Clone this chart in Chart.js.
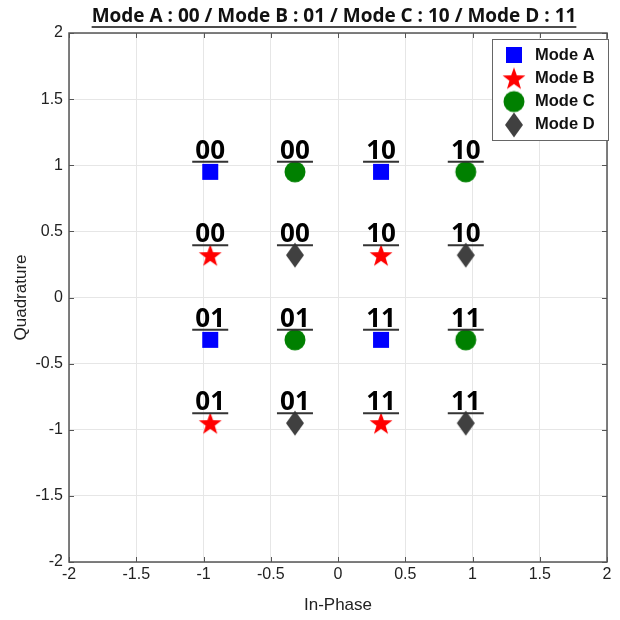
<!DOCTYPE html>
<html>
<head>
<meta charset="utf-8">
<script src="https://cdn.jsdelivr.net/npm/chart.js@4/dist/chart.umd.min.js"></script>
<style>
  html, body { margin: 0; padding: 0; background: #fff; }
  #wrap { width: 620px; height: 620px; }
</style>
</head>
<body>
<div id="wrap"><canvas id="c" width="620" height="620"></canvas></div>
<script>
// Constellation points for each mode (In-Phase / Quadrature)
const modeNames = ['Mode A', 'Mode B', 'Mode C', 'Mode D'];
const modeA_x = [-0.95, 0.32, -0.95, 0.32];
const modeA_y = [0.95, 0.95, -0.32, -0.32];
const modeA_bits = ['00', '10', '01', '11'];
const modeB_x = [-0.95, 0.32, -0.95, 0.32];
const modeB_y = [0.32, 0.32, -0.95, -0.95];
const modeB_bits = ['00', '10', '01', '11'];
const modeC_x = [-0.32, 0.95, -0.32, 0.95];
const modeC_y = [0.95, 0.95, -0.32, -0.32];
const modeC_bits = ['00', '10', '01', '11'];
const modeD_x = [-0.32, 0.95, -0.32, 0.95];
const modeD_y = [0.32, 0.32, -0.95, -0.95];
const modeD_bits = ['00', '10', '01', '11'];
const axisTicks = [-2, -1.5, -1, -0.5, 0, 0.5, 1, 1.5, 2];
const axisTickLabels = ['-2', '-1.5', '-1', '-0.5', '0', '0.5', '1', '1.5', '2'];
const titleText = 'Mode A : 00 / Mode B : 01 / Mode C : 10 / Mode D : 11';

// Marker images
function makeMarker(kind, color) {
  const w = 26, h = 28;
  const cv = document.createElement('canvas');
  cv.width = w; cv.height = h;
  const g = cv.getContext('2d');
  g.fillStyle = color;
  const cx = w / 2, cy = h / 2;
  g.beginPath();
  if (kind === 'square') {
    g.rect(cx - 8, cy - 8, 16, 16);
  } else if (kind === 'circle') {
    g.arc(cx, cy, 10.5, 0, Math.PI * 2);
  } else if (kind === 'star') {
    const R = 12, r = 4.8;
    for (let i = 0; i < 10; i++) {
      const rad = i % 2 === 0 ? R : r;
      const a = -Math.PI / 2 + i * Math.PI / 5;
      const px = cx + rad * Math.cos(a), py = cy + 1 + rad * Math.sin(a);
      if (i === 0) g.moveTo(px, py); else g.lineTo(px, py);
    }
    g.closePath();
  } else if (kind === 'diamond') {
    g.moveTo(cx, cy - 12.5);
    g.lineTo(cx + 9, cy);
    g.lineTo(cx, cy + 12.5);
    g.lineTo(cx - 9, cy);
    g.closePath();
  }
  g.fill();
  return cv;
}

const markers = [
  makeMarker('square', '#0000ff'),
  makeMarker('star', '#ff0000'),
  makeMarker('circle', '#008000'),
  makeMarker('diamond', '#404040')
];

function pts(xs, ys) { return xs.map((x, i) => ({ x: x, y: ys[i] })); }

const datasets = [
  { label: modeNames[0], data: pts(modeA_x, modeA_y), bits: modeA_bits },
  { label: modeNames[1], data: pts(modeB_x, modeB_y), bits: modeB_bits },
  { label: modeNames[2], data: pts(modeC_x, modeC_y), bits: modeC_bits },
  { label: modeNames[3], data: pts(modeD_x, modeD_y), bits: modeD_bits }
].map((d, i) => Object.assign(d, {
  pointStyle: markers[i],
  pointRadius: 12,
  pointHoverRadius: 12,
  showLine: false
}));

// Frame, inward ticks, bit labels, title, axis titles and legend
const decorations = {
  id: 'decorations',
  afterDatasetsDraw(chart) {
    const ctx = chart.ctx;
    const a = chart.chartArea;
    const xs = chart.scales.x, ys = chart.scales.y;
    ctx.save();
    // inward tick marks
    ctx.strokeStyle = '#555';
    ctx.lineWidth = 1;
    ctx.beginPath();
    axisTicks.forEach(v => {
      const px = Math.round(xs.getPixelForValue(v)) + 0.5;
      ctx.moveTo(px, a.bottom); ctx.lineTo(px, a.bottom - 5);
      ctx.moveTo(px, a.top); ctx.lineTo(px, a.top + 5);
      const py = Math.round(ys.getPixelForValue(v)) + 0.5;
      ctx.moveTo(a.left, py); ctx.lineTo(a.left + 5, py);
      ctx.moveTo(a.right, py); ctx.lineTo(a.right - 5, py);
    });
    ctx.stroke();
    // plot frame
    ctx.strokeStyle = '#555';
    ctx.lineWidth = 1.5;
    ctx.strokeRect(a.left, a.top, a.right - a.left, a.bottom - a.top);

    // bit labels above each point
    ctx.font = 'bold 26px "Open Sans", "Liberation Sans", sans-serif';
    ctx.textAlign = 'center';
    ctx.textBaseline = 'alphabetic';
    chart.data.datasets.forEach((ds, di) => {
      const meta = chart.getDatasetMeta(di);
      meta.data.forEach((el, i) => {
        const txt = ds.bits[i];
        ctx.fillStyle = '#000';
        ctx.fillText(txt, el.x, el.y - 13);
        ctx.strokeStyle = '#333';
        ctx.lineWidth = 2;
        ctx.beginPath();
        ctx.moveTo(el.x - 18, el.y - 10);
        ctx.lineTo(el.x + 18, el.y - 10);
        ctx.stroke();
      });
    });

    // title with underline
    const cx = (a.left + a.right) / 2;
    const tx = 334;
    ctx.font = 'bold 19px "Open Sans", "Liberation Sans", sans-serif';
    ctx.fillStyle = '#111';
    ctx.fillText(titleText, tx, 22);
    const tw = ctx.measureText(titleText).width;
    ctx.strokeStyle = '#111';
    ctx.lineWidth = 1.5;
    ctx.beginPath();
    ctx.moveTo(tx - tw / 2, 27);
    ctx.lineTo(tx + tw / 2, 27);
    ctx.stroke();

    // axis titles
    ctx.font = '17px "Liberation Sans", Arial, sans-serif';
    ctx.fillStyle = '#222';
    ctx.textBaseline = 'middle';
    ctx.fillText('In-Phase', cx, 605);
    ctx.save();
    ctx.translate(21, (a.top + a.bottom) / 2);
    ctx.rotate(-Math.PI / 2);
    ctx.fillText('Quadrature', 0, 0);
    ctx.restore();

    // legend box
    const lx = 492, ly = 39, lw = 116, lh = 101;
    ctx.fillStyle = '#fff';
    ctx.fillRect(lx, ly, lw, lh);
    ctx.strokeStyle = '#666';
    ctx.lineWidth = 1;
    ctx.strokeRect(lx + 0.5, ly + 0.5, lw, lh);
    ctx.font = 'bold 16.5px "Liberation Sans", Arial, sans-serif';
    ctx.textAlign = 'left';
    ctx.textBaseline = 'middle';
    chart.data.datasets.forEach((ds, di) => {
      const y = ly + 16 + di * 23.3;
      const m = markers[di];
      ctx.drawImage(m, 514 - m.width / 2, y - m.height / 2);
      ctx.fillStyle = '#111';
      ctx.fillText(ds.label, 535, y);
    });
    ctx.restore();
  }
};

const tickFont = { family: '"Liberation Sans", Arial, sans-serif', size: 16 };
const tickLabel = v => {
  const i = axisTicks.indexOf(v);
  return i >= 0 ? axisTickLabels[i] : '';
};

new Chart(document.getElementById('c'), {
  type: 'scatter',
  data: { datasets: datasets },
  options: {
    responsive: false,
    animation: false,
    events: [],
    layout: { padding: { top: 33, right: 8, left: 0, bottom: 0 } },
    plugins: { legend: { display: false }, tooltip: { enabled: false }, title: { display: false } },
    scales: {
      x: {
        type: 'linear', min: -2, max: 2,
        afterBuildTicks: s => { s.ticks = axisTicks.map(v => ({ value: v })); },
        afterFit: s => { s.height = 58; },
        ticks: { color: '#222', font: tickFont, padding: 3, maxRotation: 0, callback: tickLabel },
        grid: { color: '#e6e6e6', drawTicks: false },
        border: { display: false }
      },
      y: {
        type: 'linear', min: -2, max: 2,
        afterBuildTicks: s => { s.ticks = axisTicks.map(v => ({ value: v })); },
        afterFit: s => { s.width = 69; },
        ticks: { color: '#222', font: tickFont, padding: 6, callback: tickLabel },
        grid: { color: '#e6e6e6', drawTicks: false },
        border: { display: false }
      }
    }
  },
  plugins: [decorations]
});
</script>
</body>
</html>
